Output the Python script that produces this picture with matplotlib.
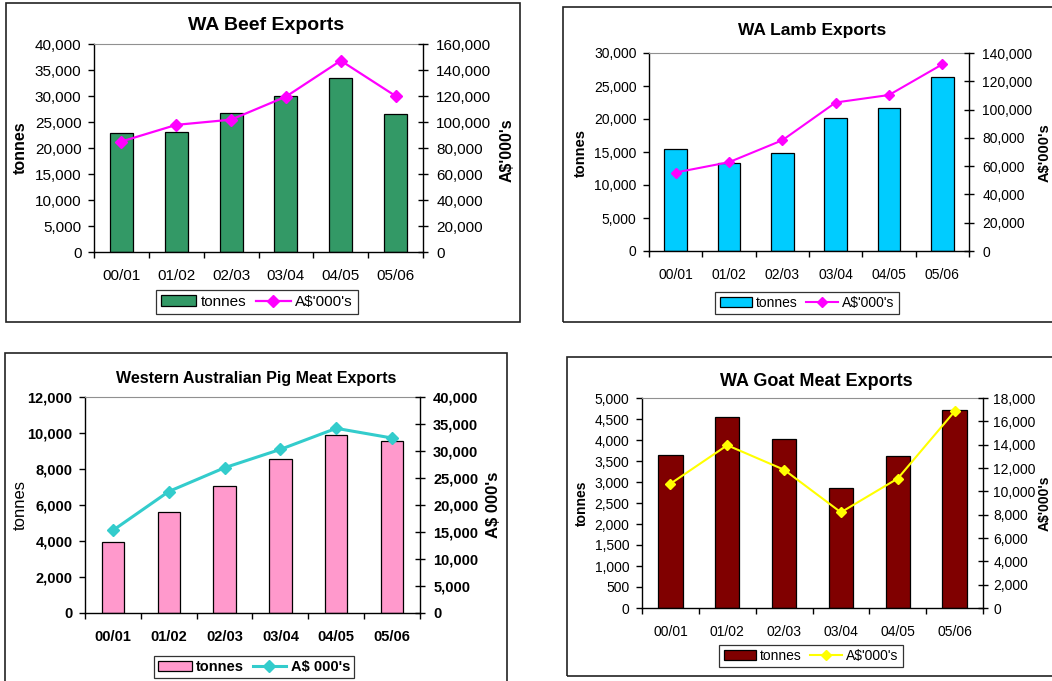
import matplotlib
matplotlib.use("Agg")
from matplotlib import pyplot as plt
from matplotlib.patches import Rectangle, Patch
from matplotlib.lines import Line2D
from matplotlib.ticker import FuncFormatter, FixedLocator

plt.rcParams['font.family'] = ['Liberation Sans', 'DejaVu Sans']

years = ["00/01", "01/02", "02/03", "03/04", "04/05", "05/06"]

beef_tonnes = [22800, 23000, 26700, 30000, 33400, 26600]
beef_value = [85000, 97800, 101800, 119500, 147200, 120000]

lamb_tonnes = [15500, 13300, 14800, 20200, 21700, 26400]
lamb_value = [55500, 62800, 78300, 105000, 110300, 132000]

pig_tonnes = [3930, 5600, 7030, 8530, 9900, 9530]
pig_value = [15300, 22500, 26900, 30300, 34200, 32400]

goat_tonnes = [3650, 4540, 4020, 2850, 3620, 4710]
goat_value = [10650, 13950, 11850, 8200, 11100, 16850]

W, H = 1052, 681
fig = plt.figure(figsize=(W / 100, H / 100), dpi=100)


def fx(x):
    return x / W


def fy(y):
    return 1 - y / H


def comma(v, _):
    return f"{v:,.0f}"


def panel(box, frame, title, tonnes, value, bar_col, line_col,
          ymax, ystep, rmax, rstep, right_label, title_pos, left_pos, right_pos,
          leg_pos, tick_fs=10, title_fs=13, lab_fs=10.5, leg_fs=10,
          ms=5, lw=1.5, bold_ticks=False, left_bold=True, bar_w=0.42, rpad=6):
    x0, y0, x1, y1 = box
    # outer chart frame
    fig.patches.append(Rectangle((fx(frame[0]), fy(frame[3])),
                                 (frame[2] - frame[0]) / W, (frame[3] - frame[1]) / H,
                                 transform=fig.transFigure, fill=False,
                                 edgecolor='#222222', linewidth=1.2))
    ax = fig.add_axes([fx(x0), fy(y1), (x1 - x0) / W, (y1 - y0) / H])
    ax.bar(range(len(years)), tonnes, width=bar_w, color=bar_col,
           edgecolor='black', linewidth=0.9)
    ax.set_xlim(-0.5, len(years) - 0.5)
    ax.set_ylim(0, ymax)
    ax.yaxis.set_major_locator(FixedLocator(list(range(0, ymax + 1, ystep))))
    ax.yaxis.set_major_formatter(FuncFormatter(comma))
    ax.set_xticks(range(len(years)))
    ax.set_xticklabels(years, fontweight='bold' if bold_ticks else 'normal')
    ax.set_xticks([i - 0.5 for i in range(len(years) + 1)], minor=True)
    ax.tick_params(axis='x', which='major', length=0, pad=12, labelsize=tick_fs)
    ax.tick_params(axis='x', which='minor', length=4, width=1, direction='out')
    ax.tick_params(axis='y', length=4, width=1, direction='out', pad=5, labelsize=tick_fs)
    if bold_ticks:
        for t in ax.get_yticklabels():
            t.set_fontweight('bold')
    ax.spines['top'].set_color('#909090')
    ax.spines['top'].set_linewidth(0.8)
    ax.spines['right'].set_visible(False)
    for s in ('left', 'bottom'):
        ax.spines[s].set_linewidth(1.0)

    ax2 = ax.twinx()
    ax2.plot(range(len(years)), value, color=line_col, marker='D',
             markersize=ms, linewidth=lw)
    ax2.set_ylim(0, rmax)
    ax2.yaxis.set_major_locator(FixedLocator(list(range(0, rmax + 1, rstep))))
    ax2.yaxis.set_major_formatter(FuncFormatter(comma))
    ax2.tick_params(axis='y', length=7, width=1, direction='inout', pad=rpad, labelsize=tick_fs)
    if bold_ticks:
        for t in ax2.get_yticklabels():
            t.set_fontweight('bold')
    for s in ('left', 'bottom', 'top'):
        ax2.spines[s].set_visible(False)
    ax2.spines['right'].set_linewidth(1.0)

    fig.text(fx(title_pos[0]), fy(title_pos[1]), title, ha='center', va='center',
             fontsize=title_fs, fontweight='bold')
    fig.text(fx(left_pos[0]), fy(left_pos[1]), "tonnes", rotation=90,
             ha='center', va='center', fontsize=lab_fs,
             fontweight='bold' if left_bold else 'normal')
    fig.text(fx(right_pos[0]), fy(right_pos[1]), right_label, rotation=90,
             ha='center', va='center', fontsize=lab_fs, fontweight='bold')

    handles = [Patch(facecolor=bar_col, edgecolor='black', linewidth=0.9),
               Line2D([], [], color=line_col, marker='D', markersize=ms, linewidth=lw)]
    leg = fig.legend(handles, ["tonnes", right_label], loc='center',
                     bbox_to_anchor=(fx(leg_pos[0]), fy(leg_pos[1])), ncol=2,
                     fontsize=leg_fs, frameon=True, fancybox=False,
                     edgecolor='black', handlelength=2.3, handletextpad=0.3,
                     columnspacing=0.6, borderpad=0.3, borderaxespad=0,
                     prop={'weight': 'bold' if bold_ticks else 'normal', 'size': leg_fs})
    leg.get_frame().set_linewidth(0.9)


panel((94, 44, 423, 252), (6, 3, 520, 322), "WA Beef Exports",
      beef_tonnes, beef_value, '#339966', '#FF00FF',
      40000, 5000, 160000, 20000, "A$'000's",
      (266, 26), (20, 148), (507, 150), (257, 302),
      tick_fs=11, title_fs=14, lab_fs=11.5, leg_fs=11, ms=6.5, lw=1.6)

panel((649, 53, 969, 251), (563, 7, 1060, 322), "WA Lamb Exports",
      lamb_tonnes, lamb_value, '#00CCFF', '#FF00FF',
      30000, 5000, 140000, 20000, "A$'000's",
      (812, 31), (581, 153), (1045, 153), (807, 303),
      tick_fs=10, title_fs=12.5, lab_fs=10.5, leg_fs=10, ms=5.5, lw=1.5)

panel((85, 397, 420, 613), (5, 353, 507, 695), "Western Australian Pig Meat Exports",
      pig_tonnes, pig_value, '#FF99CC', '#33CCCC',
      12000, 2000, 40000, 5000, "A$ 000's",
      (256, 378), (20, 505), (493, 505), (254, 667),
      tick_fs=10.5, title_fs=11.5, lab_fs=12, leg_fs=10.5, ms=6, lw=2.2,
      bold_ticks=True, left_bold=False, bar_w=0.4)

panel((642, 398, 983, 608), (567, 357, 1060, 676), "WA Goat Meat Exports",
      goat_tonnes, goat_value, '#800000', '#FFFF00',
      5000, 500, 18000, 2000, "A$'000's",
      (816, 382), (582, 503), (1045, 503), (811, 656),
      tick_fs=10, title_fs=13, lab_fs=10, leg_fs=10, ms=5, lw=1.5, bar_w=0.43,
      rpad=4)

fig.savefig("out.png", dpi=100)
